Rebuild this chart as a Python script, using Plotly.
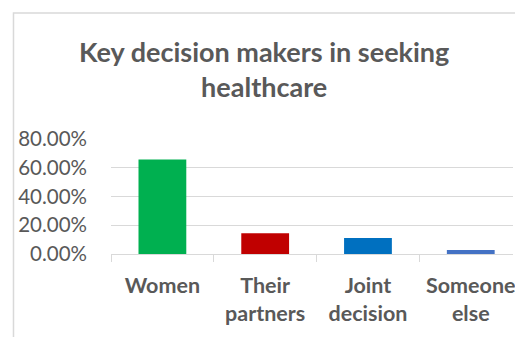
import plotly.graph_objects as go

categories = ["Women", "Their<br>partners", "Joint<br>decision", "Someone<br>else"]
shares = [0.657, 0.144, 0.111, 0.028]
bar_colors = ["#00B050", "#C00000", "#0070C0", "#4472C4"]
y_ticks = [0, 0.2, 0.4, 0.6, 0.8]
title_text = "<b>Key decision makers in seeking<br>healthcare</b>"

W, H = 515, 337
L, R, T, B = 111, 0, 139, 83
plot_w = W - L - R
plot_h = H - T - B

fig = go.Figure(
    go.Bar(
        x=categories,
        y=shares,
        marker=dict(color=bar_colors, line=dict(width=0)),
        width=0.465,
    )
)

font_family = "Lato, Carlito, Calibri, sans-serif"
grey = "#595959"
line_grey = "#D9D9D9"

fig.update_layout(
    width=W,
    height=H,
    margin=dict(l=L, r=R, t=T, b=B, pad=0),
    paper_bgcolor="white",
    plot_bgcolor="white",
    showlegend=False,
    font=dict(family=font_family, color=grey),
)

# the category axis runs past the right edge of the page
cat_w = 103.3
x_hi = -0.5 + plot_w / cat_w
fig.update_xaxes(
    type="category",
    range=[-0.5, x_hi],
    tickson="boundaries",
    ticks="outside",
    ticklen=7,
    tickcolor=line_grey,
    tickwidth=1,
    showgrid=False,
    showline=True,
    linecolor=line_grey,
    linewidth=1,
    tickfont=dict(size=21.5, color=grey, family=font_family, weight="bold"),
    ticklabelstandoff=12,
)
fig.update_yaxes(
    range=[0, 0.8],
    tickvals=y_ticks,
    tickformat=".2%",
    showgrid=True,
    gridcolor=line_grey,
    gridwidth=1,
    zeroline=False,
    showline=False,
    ticks="",
    tickfont=dict(size=20.5, color=grey, family=font_family),
    ticklabelstandoff=23,
)

fig.add_annotation(
    text=title_text,
    xref="paper", yref="paper",
    x=(265 - L) / plot_w, y=(H - 69 - B) / plot_h,
    xanchor="center", yanchor="middle",
    showarrow=False,
    font=dict(size=27, color=grey, family=font_family),
)

# chart frame (left and top edges are within the page)
fig.add_shape(
    type="rect",
    xref="paper", yref="paper",
    x0=(13 - L) / plot_w, x1=(W + 20 - L) / plot_w,
    y0=(H - 360 - B) / plot_h, y1=(H - 13 - B) / plot_h,
    line=dict(color=line_grey, width=1.5),
    fillcolor="rgba(0,0,0,0)",
    layer="below",
)

fig.write_html("out.html")
